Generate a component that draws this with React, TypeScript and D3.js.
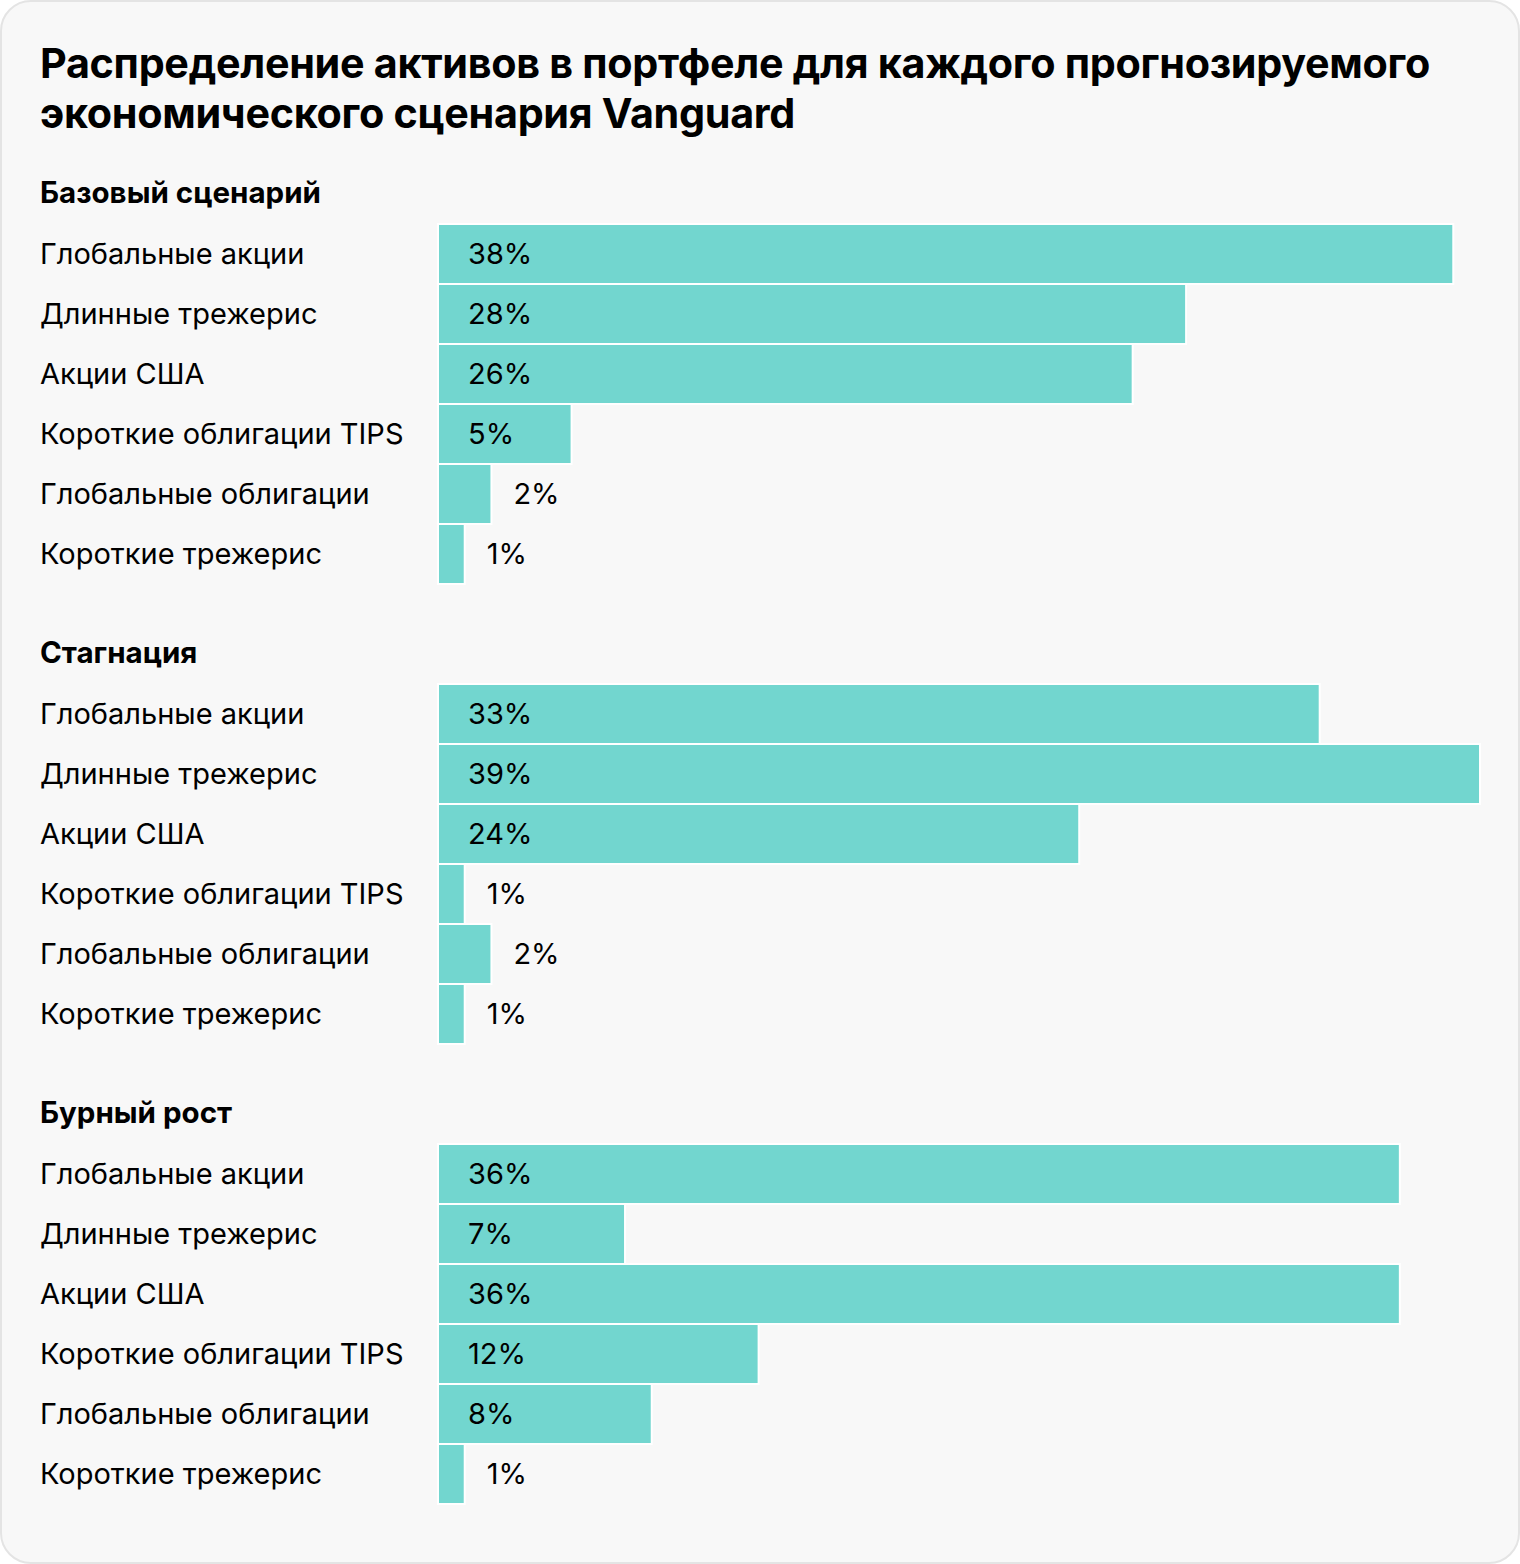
import * as d3 from "d3";
import { useMemo } from "react";

const categories = [
  "Глобальные акции",
  "Длинные трежерис",
  "Акции США",
  "Короткие облигации TIPS",
  "Глобальные облигации",
  "Короткие трежерис",
];

const scenarios = ["Базовый сценарий", "Стагнация", "Бурный рост"];

const baseValues = [38, 28, 26, 5, 2, 1];
const stagnationValues = [33, 39, 24, 1, 2, 1];
const boomValues = [36, 7, 36, 12, 8, 1];

const title = [
  "Распределение активов в портфеле для каждого прогнозируемого",
  "экономического сценария Vanguard",
];

const width = 1520;
const height = 1564;
const barColor = "#72D6CF";
const font = "Inter, 'Noto Sans', sans-serif";

export default function App() {
  const seriesList = [baseValues, stagnationValues, boomValues];

  const x = useMemo(() => d3.scaleLinear().domain([0, 39]).range([438, 1480]), []);
  const y = useMemo(
    () => d3.scaleBand<string>().domain(categories).range([0, 360]).padding(0),
    []
  );

  const groupTop = [164, 624, 1084];

  return (
    <div style={{ position: "absolute", left: 0, top: 0 }}>
      <svg width={width} height={height} style={{ display: "block", fontFamily: font }}>
        <rect x={1} y={1} width={width - 2} height={height - 2} rx={30} fill="#f8f8f8" stroke="#e4e4e4" strokeWidth={2} />
        {title.map((t, i) => (
          <text key={i} x={40} y={78 + i * 50} fontSize={41.3} fontWeight={700} fill="#000" letterSpacing={-0.3}>
            {t}
          </text>
        ))}
        {scenarios.map((s, gi) => (
          <g key={s} transform={`translate(0, ${groupTop[gi]})`}>
            <text x={40} y={39} fontSize={29.5} fontWeight={700} fill="#000">
              {s}
            </text>
            <g transform="translate(0, 60)">
              {categories.map((c, i) => {
                const v = seriesList[gi][i];
                const yy = y(c)!;
                const w = x(v) - x(0);
                const inside = w > 100;
                return (
                  <g key={c}>
                    <text x={40} y={yy + y.bandwidth() / 2} dy="0.35em" fontSize={29} fill="#000">
                      {c}
                    </text>
                    <rect x={x(0)} y={yy} width={w} height={y.bandwidth()} fill={barColor} stroke="#fff" strokeWidth={2} />
                    <text
                      x={inside ? x(0) + 30 : x(v) + 22}
                      y={yy + y.bandwidth() / 2}
                      dy="0.35em"
                      fontSize={29}
                      fill="#000"
                    >
                      {v}%
                    </text>
                  </g>
                );
              })}
            </g>
          </g>
        ))}
      </svg>
    </div>
  );
}
